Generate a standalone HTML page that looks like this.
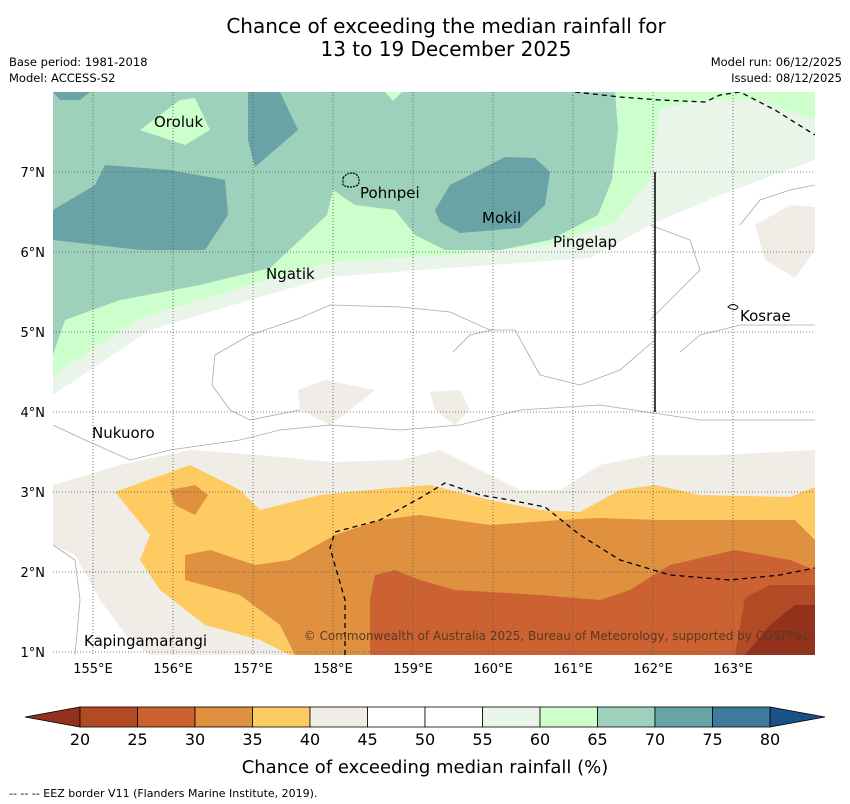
<!DOCTYPE html>
<html><head><meta charset="utf-8"><style>
body{margin:0;background:#fff;font-family:"Liberation Sans",sans-serif;}
svg{display:block}
text{font-family:"DejaVu Sans","Liberation Sans",sans-serif;}
</style></head><body>
<svg width="850" height="804" viewBox="0 0 850 804">
<text x="446" y="33" font-size="20" text-anchor="middle">Chance of exceeding the median rainfall for</text>
<text x="446" y="56" font-size="20" text-anchor="middle">13 to 19 December 2025</text>
<text x="9" y="66" font-size="11.5">Base period: 1981-2018</text>
<text x="9" y="82" font-size="11.5">Model: ACCESS-S2</text>
<text x="842" y="66" font-size="11.5" text-anchor="end">Model run: 06/12/2025</text>
<text x="842" y="82" font-size="11.5" text-anchor="end">Issued: 08/12/2025</text>
<defs><clipPath id="mc"><rect x="53" y="92" width="762" height="563"/></clipPath></defs>
<g clip-path="url(#mc)">
<rect x="53" y="92" width="762" height="563" fill="#fff"/>
<polygon fill="#eaf5ea" points="53,92 815,92 815,160 720,195 650,225 590,258 450,268 330,277 250,300 150,330 53,395"/>
<polygon fill="#ccffcc" points="53,92 815,92 815,120 760,100 700,100 660,110 650,180 615,222 550,245 450,255 330,262 260,282 140,318 53,375"/>
<polygon fill="#9dd1bb" points="53,92 615,92 618,130 612,180 598,215 550,240 500,250 445,250 415,235 395,210 355,205 333,190 327,215 300,240 270,268 200,285 120,300 65,320 53,355"/>
<polygon fill="#ccffcc" points="140,130 180,100 195,98 210,130 185,145"/>
<polygon fill="#ccffcc" points="385,92 402,92 393,101"/>
<polygon fill="#6aa3a5" points="53,210 95,185 105,165 170,170 225,180 228,215 205,250 140,250 53,240"/>
<polygon fill="#6aa3a5" points="248,92 280,92 298,130 255,167 248,140"/>
<polygon fill="#6aa3a5" points="435,210 450,185 505,157 535,158 550,172 545,205 520,228 460,233 440,222"/>
<polygon fill="#6aa3a5" points="53,92 90,92 80,100 60,100"/>
<polygon fill="#f0ece6" points="53,485 120,465 190,450 260,455 330,462 400,460 440,450 480,470 520,490 560,490 600,465 650,455 720,455 815,450 815,655 53,655"/>
<polygon fill="#fff" points="53,545 75,555 100,600 130,640 150,655 53,655"/>
<polygon fill="#f0ece6" points="298,390 325,380 375,390 350,410 330,425 300,410"/>
<polygon fill="#f0ece6" points="430,392 460,390 470,410 455,425 435,410"/>
<polygon fill="#f0ece6" points="755,225 790,205 815,207 815,250 795,278 765,260"/>
<polygon fill="#fecb63" points="115,492 190,465 240,490 260,510 320,495 390,488 430,485 490,500 540,510 580,512 620,490 655,485 700,495 790,497 815,487 815,655 290,655 260,640 205,625 160,590 140,560 150,535"/>
<polygon fill="#e0913f" points="170,490 195,485 208,495 195,515 175,505"/>
<polygon fill="#e0913f" points="185,555 210,550 255,565 290,560 335,535 380,520 420,515 490,525 560,520 600,518 660,520 795,520 815,540 815,655 295,655 280,625 240,595 185,580"/>
<polygon fill="#cc6132" points="375,575 395,570 420,580 455,590 540,595 600,600 630,590 670,565 735,550 790,560 815,570 815,655 370,655 370,600"/>
<polygon fill="#b34a26" points="745,598 770,585 815,585 815,655 735,655"/>
<polygon fill="#92321c" points="770,625 795,605 815,605 815,655 745,655"/>
<g fill="none" stroke="#aaa" stroke-width="0.8">
<polyline points="215,355 250,335 300,318 330,305 400,307 450,312 490,330 515,330 540,375 580,385 620,370 655,340"/>
<polyline points="453,352 470,335 492,330"/>
<polyline points="680,352 700,335 740,325 815,325"/>
<polyline points="53,425 85,440 130,460 170,450 240,440 280,430 330,425 400,430 460,425 520,410 600,405 700,420 815,420"/>
<polyline points="215,355 212,385 230,410 250,420 300,410"/>
<polyline points="650,225 690,240 700,270 670,300 650,320"/>
<polyline points="815,185 790,190 760,200 740,225"/>
<polyline points="53,545 75,560 80,600 75,655"/>
</g>
<g stroke="#555" stroke-width="0.8" stroke-dasharray="1,2" id="grid"></g>
<polyline fill="none" stroke="#000" stroke-width="1.3" stroke-dasharray="5,4" points="575,92 620,97 660,100 705,102 720,95 740,92 775,110 815,135"/>
<polyline fill="none" stroke="#000" stroke-width="1.3" stroke-dasharray="5,4" points="345,655 345,600 330,548 335,532 380,520 420,498 445,483 480,495 510,500 545,507 580,535 620,560 670,575 730,580 780,575 815,568"/>
<line x1="655" y1="172" x2="655" y2="412" stroke="#000" stroke-width="1.5"/>
<path d="M343,178 q5,-7 13,-4 q5,5 2,11 q-8,4 -15,0 z" fill="none" stroke="#000" stroke-width="1.2" stroke-dasharray="2,1"/>
<path d="M728,307 q5,-5 10,0 q-2,5 -10,0 z" fill="none" stroke="#000" stroke-width="1"/>
</g>
<g font-size="15">
<text x="154" y="127">Oroluk</text>
<text x="360" y="198">Pohnpei</text>
<text x="482" y="223">Mokil</text>
<text x="553" y="247">Pingelap</text>
<text x="266" y="279">Ngatik</text>
<text x="740" y="321">Kosrae</text>
<text x="92" y="438">Nukuoro</text>
<text x="84" y="646">Kapingamarangi</text>
</g>
<text x="809" y="640" font-size="12" fill="#5a3a20" text-anchor="end">© Commonwealth of Australia 2025, Bureau of Meteorology, supported by COSPPac</text>
<g font-size="13" id="axlabels"></g>
<g id="cbar"></g>
<text x="425" y="773" font-size="18" text-anchor="middle">Chance of exceeding median rainfall (%)</text>
<text x="9" y="797" font-size="11">--  --  -- EEZ border V11 (Flanders Marine Institute, 2019).</text>
</svg>
<script>
const lonTicks=[155,156,157,158,159,160,161,162,163];
const latTicks=[1,2,3,4,5,6,7];
const levels=[20,25,30,35,40,45,50,55,60,65,70,75,80];
const binColors=['#b34a26','#cc6132','#e0913f','#fecb63','#f0ece6','#ffffff','#ffffff','#eaf5ea','#ccffcc','#9dd1bb','#6aa3a5','#3d7a9c'];
const lowColor='#92321c', highColor='#1a5288';
const NS='http://www.w3.org/2000/svg';
const xOf=lon=>53+(lon-154.5)*80;
const yOf=lat=>92+(8-lat)*80;
function mk(t,a,p){const e=document.createElementNS(NS,t);for(const k in a)e.setAttribute(k,a[k]);p.appendChild(e);return e;}
const grid=document.getElementById('grid'), ax=document.getElementById('axlabels');
lonTicks.forEach(l=>{const x=xOf(l);
 const ln=mk('line',{x1:x,y1:92,x2:x,y2:655},grid);
 
 
 const t=mk('text',{x:x,y:673,'text-anchor':'middle'},ax);t.textContent=l+'°E';
 
 });
latTicks.forEach(l=>{const y=yOf(l);
 const ln=mk('line',{x1:53,y1:y,x2:815,y2:y},grid);
 
 
 const t=mk('text',{x:45,y:y+5,'text-anchor':'end'},ax);t.textContent=l+'°N';
 
 });
const cb=document.getElementById('cbar');
const cx=v=>80+(v-20)*(690/60);
const y0=707,y1=727;
const lt=mk('polygon',{points:`25,717 ${cx(20)},${y0} ${cx(20)},${y1}`,fill:lowColor,stroke:'#000','stroke-width':0.8},cb);


const rt=mk('polygon',{points:`825,717 ${cx(80)},${y0} ${cx(80)},${y1}`,fill:highColor,stroke:'#000','stroke-width':0.8},cb);


binColors.forEach((c,i)=>{const r=mk('rect',{x:cx(levels[i]),y:y0,width:cx(levels[i+1])-cx(levels[i]),height:y1-y0,fill:c,stroke:'#000','stroke-width':0.8},cb);
 
 });
levels.forEach(v=>{const t=mk('text',{x:cx(v),y:745,'font-size':16,'text-anchor':'middle'},cb);t.textContent=v;
 
 });
</script>
</body></html>
